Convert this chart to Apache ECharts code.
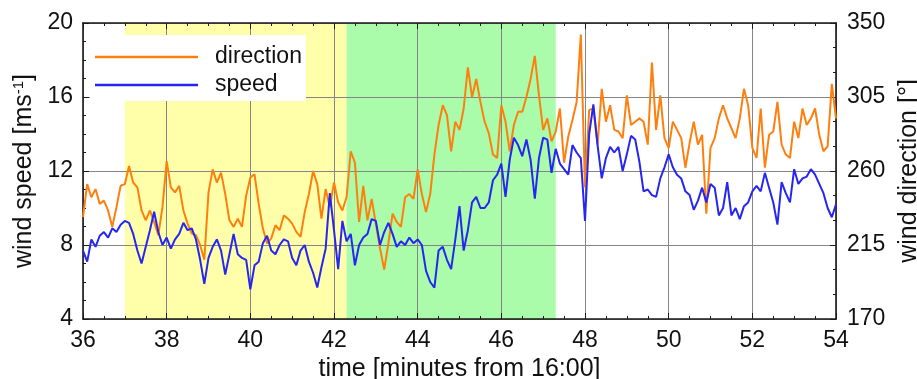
<!DOCTYPE html>
<html>
<head>
<meta charset="utf-8">
<script src="https://cdn.jsdelivr.net/npm/echarts@6/dist/echarts.min.js"></script>
<style>
html,body{margin:0;padding:0;background:#fff;}
#c{width:917px;height:379px;}
</style>
</head>
<body>
<div id="c"></div>
<script>
// time axis: minutes from 16:00, sampled every 0.1 min from 36.0 to 54.0
const T0 = 36;
const DT = 0.1;
const xTicks = [36, 38, 40, 42, 44, 46, 48, 50, 52, 54];
const speedTicks = [4, 8, 12, 16, 20];
const dirTicks = [170, 215, 260, 305, 350];
const yellowBand = [37.0, 42.3];
const greenBand = [42.3, 47.3];

// wind direction [deg]
const direction = [
232,252,244,249,240,242,236,226,238,251,
252,263,253,250,236,230,236,229,221,238,
266,250,247,251,236,228,222,221,215,206,
247,261,253,259,246,230,226,231,226,245,
256,258,240,225,216,219,227,224,233,231,
228,223,220,235,246,260,252,231,249,238,
253,241,236,244,272,265,229,251,230,243,
228,213,200,216,234,229,226,244,246,243,
261,246,235,246,270,288,300,294,272,290,
285,298,323,305,316,302,290,283,270,268,
300,290,272,288,296,296,305,316,330,306,
285,292,278,284,298,265,281,291,302,343,
250,297,298,276,310,290,300,285,284,280,
306,288,290,292,290,276,326,285,306,280,
274,290,285,280,262,277,290,276,282,234,
274,280,292,300,292,286,280,292,310,300,
274,268,298,262,282,284,302,276,270,268,
290,280,298,288,292,298,282,272,275,313,
292
];

// wind speed [m/s]
const speed = [
7.7,7.1,8.3,7.9,8.5,8.7,8.4,8.9,8.7,9.1,
9.3,9.2,8.6,7.7,7.0,7.9,8.8,9.8,8.7,8.0,
8.4,7.8,8.3,8.6,9.2,8.8,8.9,8.3,7.2,5.9,
7.3,7.9,8.3,7.7,6.4,7.5,8.6,7.5,7.3,7.2,
5.6,6.9,7.1,8.1,8.5,7.7,7.5,8.0,8.3,8.2,
7.3,6.9,7.7,8.0,7.1,6.5,5.7,6.8,7.8,10.8,
8.8,6.7,9.3,8.2,8.6,6.9,8.0,8.4,8.6,9.4,
9.3,8.0,8.7,9.2,8.6,7.9,8.2,8.0,8.4,8.1,
8.3,8.0,6.6,6.0,5.7,7.7,7.9,7.2,6.7,8.3,
10.1,7.7,8.8,10.3,10.6,10.0,10.0,10.3,11.5,11.8,
12.4,10.6,12.6,13.8,13.4,12.8,13.7,12.6,10.5,12.7,
13.8,13.7,11.9,13.2,12.4,12.1,11.8,13.4,13.0,12.7,
9.3,14.0,15.6,13.4,11.6,12.7,13.3,13.0,13.3,12.0,
12.9,13.9,13.7,12.5,10.9,11.0,10.7,10.6,11.6,12.2,
12.9,12.2,11.8,11.6,10.9,10.7,9.9,10.4,11.1,10.3,
11.3,11.1,9.6,10.0,11.4,9.6,10.0,9.4,10.1,10.3,
10.9,11.2,10.9,11.9,11.1,10.3,9.1,11.4,10.8,10.3,
12.1,11.3,11.6,11.7,12.1,11.8,11.3,10.8,10.0,9.5,
10.2
];

const tOf = i => Math.round((T0 + i * DT) * 100) / 100;
const speedData = speed.map((v, i) => [tOf(i), v]);
const dirData = direction.map((v, i) => [tOf(i), v]);

const FONT = 'Liberation Sans, Arial, Helvetica, sans-serif';
const AXC = '#1a1a1a';
const GRIDC = '#858585';
const TXT = '#111';

function tickStyle(split) {
  return {
    axisLine: {show: true, onZero: false, lineStyle: {color: AXC, width: 1.6}},
    axisTick: {show: true, inside: true, length: 6, lineStyle: {color: AXC, width: 1}},
    minorTick: {show: true, splitNumber: split, length: 3, lineStyle: {color: AXC, width: 1}}
  };
}

const chart = echarts.init(document.getElementById('c'), null, {renderer: 'canvas'});

chart.setOption({
  animation: false,
  backgroundColor: '#fff',
  grid: {left: 83, right: 81, top: 23, bottom: 60, containLabel: false, outerBoundsMode: 'none'},
  legend: {
    data: ['direction', 'speed'],
    orient: 'vertical',
    left: 90, top: 35,
    backgroundColor: '#fff',
    padding: [9, 4, 3, 5],
    icon: 'rect',
    itemWidth: 103, itemHeight: 2.5, itemGap: 2,
    textStyle: {fontFamily: FONT, fontSize: 23, color: TXT, lineHeight: 26, padding: [0, 0, 0, 12]},
    z: 10
  },
  xAxis: [Object.assign({
    type: 'value', min: xTicks[0], max: xTicks[xTicks.length - 1], interval: 2, z: 1,
    name: 'time [minutes from 16:00]', nameLocation: 'middle', nameGap: 36,
    nameTextStyle: {fontFamily: FONT, fontSize: 25, color: TXT},
    axisLabel: {fontFamily: FONT, fontSize: 23, color: TXT, margin: 10},
    splitLine: {show: true, lineStyle: {color: GRIDC, width: 1}}
  }, tickStyle(4)), Object.assign({
    type: 'value', position: 'top', min: xTicks[0], max: xTicks[xTicks.length - 1], interval: 2, z: 1,
    axisLabel: {show: false}, splitLine: {show: false}
  }, tickStyle(4))],
  yAxis: [Object.assign({
    type: 'value', position: 'left', min: speedTicks[0], max: speedTicks[speedTicks.length - 1], interval: 4, z: 1,
    name: 'wind speed [ms{sup|-1}]', nameLocation: 'middle', nameGap: 44, nameRotate: 90,
    nameTextStyle: {fontFamily: FONT, fontSize: 25, color: TXT,
      rich: {sup: {fontFamily: FONT, fontSize: 15, color: TXT, verticalAlign: 'top', lineHeight: 14}}},
    axisLabel: {fontFamily: FONT, fontSize: 23, color: TXT, margin: 10},
    splitLine: {show: true, lineStyle: {color: GRIDC, width: 1}}
  }, tickStyle(4)), Object.assign({
    type: 'value', position: 'right', min: dirTicks[0], max: dirTicks[dirTicks.length - 1], interval: 45, z: 1,
    name: 'wind direction [°]', nameLocation: 'middle', nameGap: 35, nameRotate: 90,
    nameTextStyle: {fontFamily: FONT, fontSize: 25, color: TXT},
    axisLabel: {fontFamily: FONT, fontSize: 23, color: TXT, margin: 11},
    splitLine: {show: false}
  }, tickStyle(3))],
  series: [{
    name: 'bands', type: 'line', data: [], z: 0, silent: true,
    markArea: {
      silent: true, z: -1,
      data: [
        [{xAxis: yellowBand[0], itemStyle: {color: '#FFFFAA'}}, {xAxis: yellowBand[1]}],
        [{xAxis: greenBand[0], itemStyle: {color: '#AAFBAA'}}, {xAxis: greenBand[1]}]
      ]
    }
  }, {
    name: 'direction', type: 'line', yAxisIndex: 1, data: dirData, z: 3,
    symbol: 'none', showSymbol: false,
    lineStyle: {color: '#FF7F0E', width: 2}, itemStyle: {color: '#FF7F0E'}
  }, {
    name: 'speed', type: 'line', yAxisIndex: 0, data: speedData, z: 4,
    symbol: 'none', showSymbol: false,
    lineStyle: {color: '#2626F2', width: 2}, itemStyle: {color: '#2626F2'}
  }]
});
</script>
</body>
</html>
